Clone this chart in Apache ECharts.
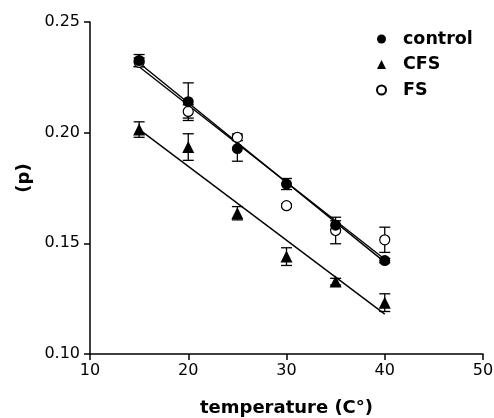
<!DOCTYPE html>
<html>
<head>
<meta charset="utf-8">
<script src="https://cdn.jsdelivr.net/npm/echarts@6/dist/echarts.min.js"></script>
<style>
  html, body { margin: 0; padding: 0; background: #fff; }
  #main { width: 494px; height: 418px; }
</style>
</head>
<body>
<div id="main"></div>
<script>
    var myChart = echarts.init(document.getElementById('main'));

    // temperatures (x)
    var temps = [15, 20, 25, 30, 35, 40];
    // means
    var controlVals = [0.2326, 0.2140, 0.1928, 0.1768, 0.1582, 0.1422];
    var cfsVals     = [0.2014, 0.1935, 0.1636, 0.1440, 0.1327, 0.1232];
    var fsVals      = [0.2318, 0.2096, 0.1979, 0.1670, 0.1558, 0.1516];
    // error (+/-)
    var controlErr = [0.0027, 0.0085, 0.0057, 0.0025, 0.0020, 0.0010];
    var cfsErr     = [0.0035, 0.0060, 0.0030, 0.0040, 0.0015, 0.0040];
    var fsErr      = [0.0020, 0.0030, 0.0015, 0.0008, 0.0060, 0.0057];
    // regression lines (end points)
    var fitX       = [15, 40];
    var controlFit = [0.2315, 0.1415];
    var fsFit      = [0.2298, 0.1428];
    var cfsFit     = [0.2015, 0.1180];

    var xTicks = [10, 20, 30, 40, 50];

    var boldFont = 'DejaVu Sans, Liberation Sans, sans-serif';

    function pts(xs, ys) {
        return xs.map(function (x, i) { return [x, ys[i]]; });
    }

    //误差线
    function errSeries(vals, err) {
        return {
            type: 'custom',
            silent: true,
            z: 3,
            data: temps.map(function (t, i) { return [t, vals[i] - err[i], vals[i] + err[i]]; }),
            renderItem: function (params, api) {
                var lo = api.coord([api.value(0), api.value(1)]);
                var hi = api.coord([api.value(0), api.value(2)]);
                var w = 5.5;
                var st = { stroke: '#000', lineWidth: 1.3 };
                return {
                    type: 'group',
                    children: [
                        { type: 'line', shape: { x1: lo[0], y1: lo[1], x2: hi[0], y2: hi[1] }, style: st },
                        { type: 'line', shape: { x1: lo[0] - w, y1: lo[1], x2: lo[0] + w, y2: lo[1] }, style: st },
                        { type: 'line', shape: { x1: hi[0] - w, y1: hi[1], x2: hi[0] + w, y2: hi[1] }, style: st }
                    ]
                };
            }
        };
    }

    function fitSeries(ys) {
        return {
            type: 'line',
            silent: true,
            symbol: 'none',
            z: 2,
            data: pts(fitX, ys),
            lineStyle: { color: '#000', width: 1.4 }
        };
    }

    var option = {
        animation: false,
        textStyle: { fontFamily: 'DejaVu Sans, Liberation Sans, sans-serif' },
        grid: { left: 90, right: 11, top: 22, bottom: 64, outerBoundsMode: 'none' },
        legend: {
            orient: 'vertical',
            left: 371,
            top: 25,
            itemWidth: 9,
            itemHeight: 9,
            itemGap: 7.5,
            selectedMode: false,
            textStyle: { fontSize: 17.5, fontWeight: 'bold', fontFamily: boldFont, color: '#000', padding: [0, 0, 0, 12] },
            data: [
                { name: 'control', icon: 'circle' },
                { name: 'CFS', icon: 'triangle' },
                { name: 'FS', icon: 'circle' }
            ]
        },
        xAxis: {
            type: 'value',
            min: 10, max: 50, interval: 10,
            name: 'temperature (C°)',
            nameLocation: 'middle',
            nameGap: 45,
            nameTextStyle: { fontSize: 18, fontWeight: 'bold', fontFamily: boldFont, color: '#000' },
            splitLine: { show: false },
            axisLine: { show: true, onZero: false, lineStyle: { color: '#000', width: 1.5 } },
            axisTick: { show: true, length: 6, lineStyle: { color: '#000', width: 1.5 } },
            axisLabel: {
                color: '#000', fontSize: 16, margin: 9,
                customValues: xTicks,
                formatter: function (v) { return v; }
            }
        },
        yAxis: {
            type: 'value',
            min: 0.10, max: 0.25, interval: 0.05,
            name: '(p)',
            nameLocation: 'middle',
            nameGap: 56,
            nameRotate: 90,
            nameTextStyle: { fontSize: 18, fontWeight: 'bold', fontFamily: boldFont, color: '#000', padding: [0, 0, 0, 20] },
            splitLine: { show: false },
            axisLine: { show: true, onZero: false, lineStyle: { color: '#000', width: 1.5 } },
            axisTick: { show: true, length: 6, lineStyle: { color: '#000', width: 1.5 } },
            axisLabel: {
                color: '#000', fontSize: 16, margin: 10,
                formatter: function (v) { return v.toFixed(2); }
            }
        },
        series: [
            fitSeries(controlFit),
            fitSeries(fsFit),
            fitSeries(cfsFit),
            errSeries(controlVals, controlErr),
            errSeries(cfsVals, cfsErr),
            errSeries(fsVals, fsErr),
            {
                name: 'FS', type: 'scatter', z: 4,
                symbol: 'circle', symbolSize: 10,
                itemStyle: { color: '#fff', borderColor: '#000', borderWidth: 1.2, opacity: 1 },
                data: pts(temps, fsVals)
            },
            {
                name: 'CFS', type: 'scatter', z: 5,
                symbol: 'triangle', symbolSize: 12,
                itemStyle: { color: '#000', opacity: 1 },
                data: pts(temps, cfsVals)
            },
            {
                name: 'control', type: 'scatter', z: 5,
                symbol: 'circle', symbolSize: 11,
                itemStyle: { color: '#000', opacity: 1 },
                data: pts(temps, controlVals)
            }
        ]
    };

    myChart.setOption(option);
    window.addEventListener('resize', function () {
        myChart.resize();
    });
</script>
</body>
</html>
